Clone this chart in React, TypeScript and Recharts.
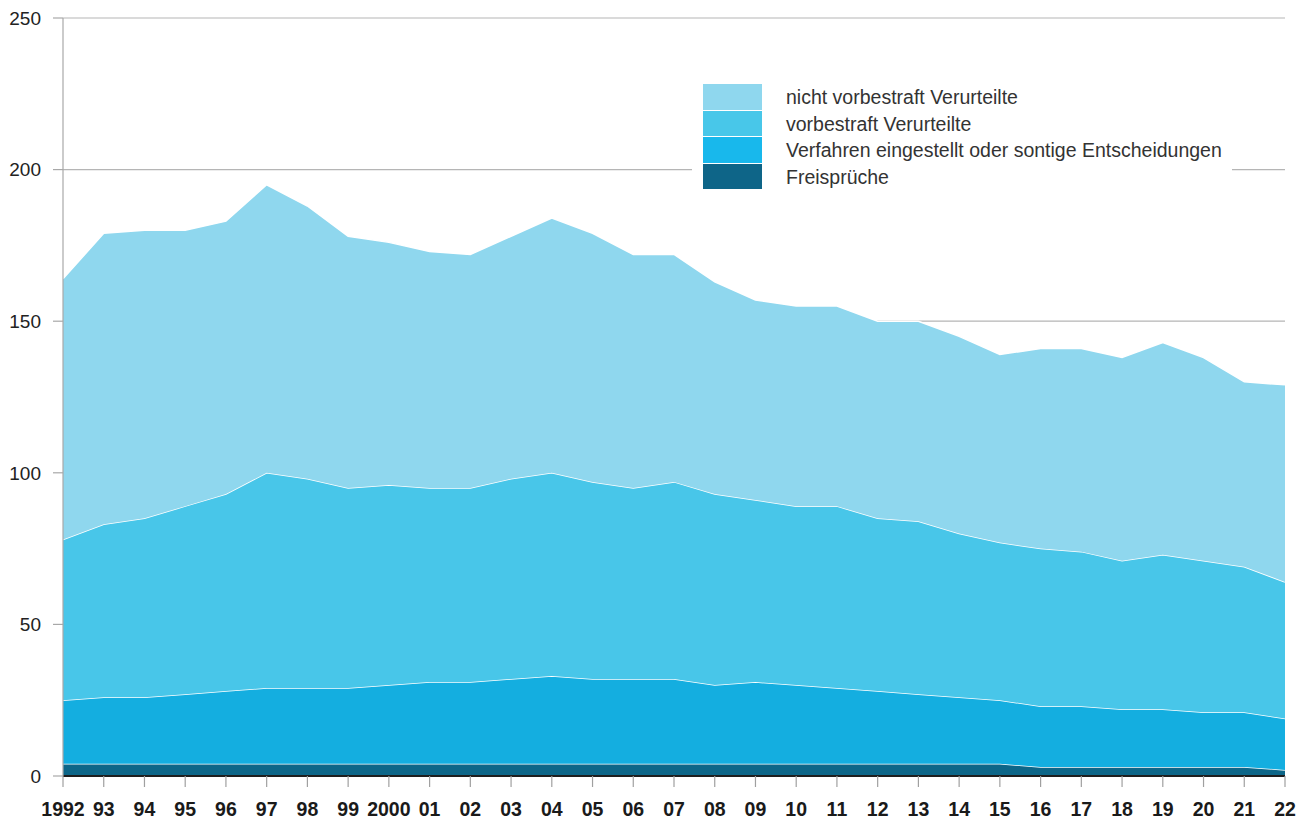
import React from "react";
import { AreaChart, Area, XAxis, YAxis, CartesianGrid, Legend } from "recharts";

const years = [
  "1992", "93", "94", "95", "96", "97", "98", "99", "2000", "01", "02", "03", "04", "05", "06", "07",
  "08", "09", "10", "11", "12", "13", "14", "15", "16", "17", "18", "19", "20", "21", "22",
];

const freisprueche = [4, 4, 4, 4, 4, 4, 4, 4, 4, 4, 4, 4, 4, 4, 4, 4, 4, 4, 4, 4, 4, 4, 4, 4, 3, 3, 3, 3, 3, 3, 2];
const verfahren = [21, 22, 22, 23, 24, 25, 25, 25, 26, 27, 27, 28, 29, 28, 28, 28, 26, 27, 26, 25, 24, 23, 22, 21, 20, 20, 19, 19, 18, 18, 17];
const vorbestraft = [53, 57, 59, 62, 65, 71, 69, 66, 66, 64, 64, 66, 67, 65, 63, 65, 63, 60, 59, 60, 57, 57, 54, 52, 52, 51, 49, 51, 50, 48, 45];
const nichtVorbestraft = [86, 96, 95, 91, 90, 95, 90, 83, 80, 78, 77, 80, 84, 82, 77, 75, 70, 66, 66, 66, 65, 66, 65, 62, 66, 67, 67, 70, 67, 61, 65];

const yTicks = [0, 50, 100, 150, 200, 250];

const series = [
  { key: "freisprueche", name: "Freisprüche", color: "#0d6688", legendColor: "#0e6588" },
  { key: "verfahren", name: "Verfahren eingestellt oder sontige Entscheidungen", color: "#14aee0", legendColor: "#18b8ec" },
  { key: "vorbestraft", name: "vorbestraft Verurteilte", color: "#48c6e9", legendColor: "#48c7e9" },
  { key: "nichtVorbestraft", name: "nicht vorbestraft Verurteilte", color: "#8fd7ee", legendColor: "#8fd7ee" },
];

const data = years.map((year, i) => ({
  year,
  freisprueche: freisprueche[i],
  verfahren: verfahren[i],
  vorbestraft: vorbestraft[i],
  nichtVorbestraft: nichtVorbestraft[i],
}));

const FONT = '"Liberation Sans", Arial, Helvetica, sans-serif';

const renderLegend = () => {
  const items = [...series].reverse();
  return (
    <div style={{ background: "#fff", padding: "6px 0 6px 11px", width: 540, boxSizing: "border-box" }}>
      {items.map((s) => (
        <div key={s.key} style={{ display: "flex", alignItems: "center", height: 26, marginBottom: 0.5 }}>
          <div style={{ width: 59, height: 25.5, background: s.legendColor, marginRight: 24, flexShrink: 0 }} />
          <span style={{ fontFamily: FONT, fontSize: 19.5, color: "#333", whiteSpace: "nowrap", lineHeight: "26px" }}>{s.name}</span>
        </div>
      ))}
    </div>
  );
};

export default function App() {
  return (
    <div style={{ position: "absolute", left: 0, top: 0, width: 1310, height: 821, background: "#fff" }}>
      <AreaChart width={1310} height={821} data={data} margin={{ top: 18, right: 25, bottom: 0, left: 0 }}>
        <CartesianGrid horizontal vertical={false} stroke="#b5b5b5" strokeWidth={1.2} />
        <XAxis
          dataKey="year"
          height={45}
          interval={0}
          tickSize={11}
          tickMargin={15}
          axisLine={{ stroke: "#1e1e1e", strokeWidth: 2 }}
          tickLine={{ stroke: "#a0a0a0", strokeWidth: 1.2 }}
          tick={{ fontFamily: FONT, fontSize: 19.5, fontWeight: 700, fill: "#1a1a1a" }}
        />
        <YAxis
          width={63}
          domain={[0, 250]}
          ticks={yTicks}
          tickSize={10}
          tickMargin={12}
          axisLine={{ stroke: "#a8a8a8", strokeWidth: 1.2 }}
          tickLine={{ stroke: "#a8a8a8", strokeWidth: 1.2 }}
          tick={{ fontFamily: FONT, fontSize: 19, fill: "#222" }}
        />
        {series.map((s) => (
          <Area
            key={s.key}
            type="linear"
            dataKey={s.key}
            name={s.name}
            stackId="1"
            stroke="#ffffff"
            strokeWidth={1.5}
            fill={s.color}
            fillOpacity={1}
            isAnimationActive={false}
          />
        ))}
        <Legend
          content={renderLegend}
          layout="horizontal"
          verticalAlign="middle"
          align="center"
          wrapperStyle={{ position: "absolute", left: 692, top: 78, width: 540 }}
        />
      </AreaChart>
    </div>
  );
}
